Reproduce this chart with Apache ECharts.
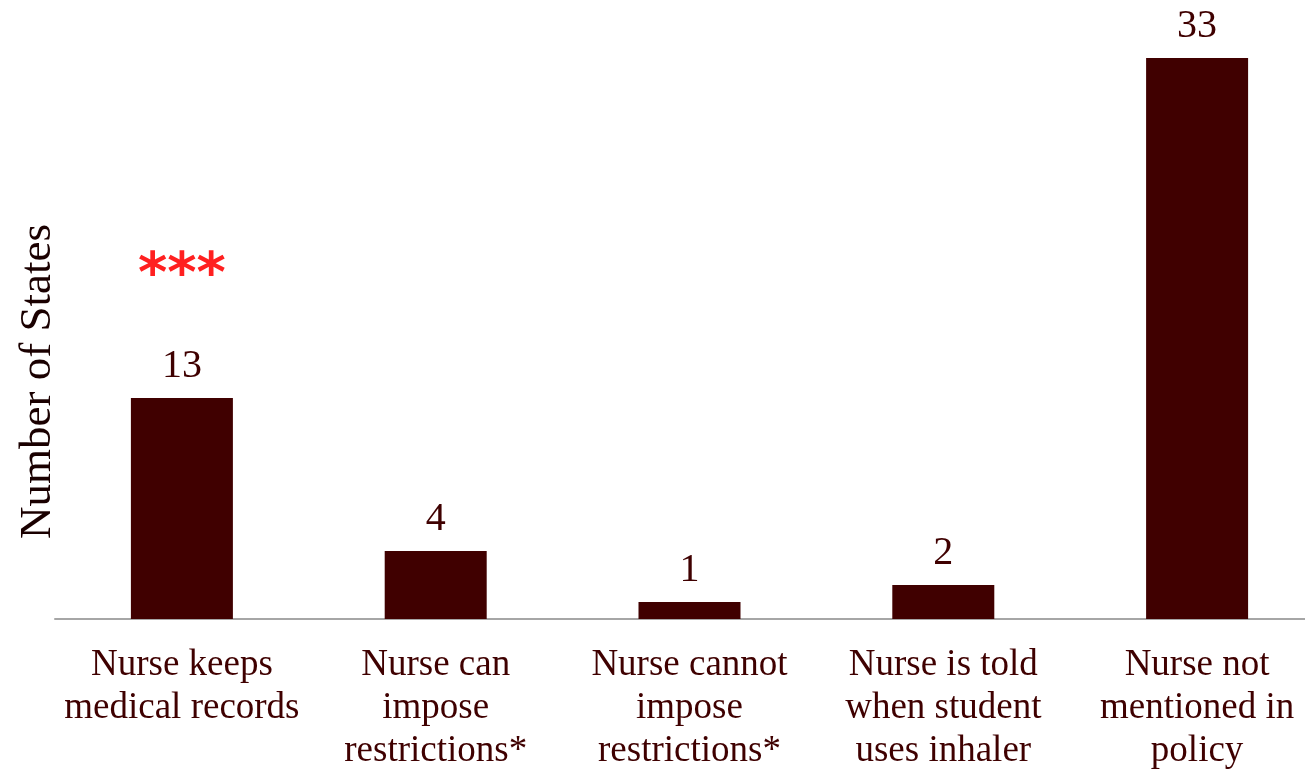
<!DOCTYPE html>
<html><head><meta charset="utf-8">
<script src="https://cdn.jsdelivr.net/npm/echarts@6/dist/echarts.min.js"></script>
<style>html,body{margin:0;padding:0;background:#fff}#c{width:1305px;height:770px}</style>
</head><body><div id="c"></div>
<script>
var categories = ['Nurse keeps\nmedical records','Nurse can\nimpose\nrestrictions*','Nurse cannot\nimpose\nrestrictions*','Nurse is told\nwhen student\nuses inhaler','Nurse not\nmentioned in\npolicy'];
var values = [13, 4, 1, 2, 33];
var marks = ['***', '', '', '', ''];

var data = values.map(function(v, i){
  var d = {value: v};
  if (marks[i]) {
    d.label = {formatter: '{star|' + marks[i] + '}\n{gap|}\n{val|{c}}'};
  }
  return d;
});

var chart = echarts.init(document.getElementById('c'));
chart.setOption({
  animation: false,
  grid: {left: 55, top: 58, width: 1269, bottom: 151, containLabel: false, outerBoundsMode: 'none'},
  xAxis: {
    type: 'category', data: categories,
    axisLine: {lineStyle: {color: '#a6a6a6', width: 2}},
    axisTick: {show: false},
    axisLabel: {interval: 0, margin: 25, fontFamily: 'Liberation Serif', fontSize: 37, lineHeight: 43, color: '#3f0000'}
  },
  yAxis: {
    type: 'value', min: 0, max: 33,
    axisLine: {show: false}, axisTick: {show: false}, axisLabel: {show: false}, splitLine: {show: false},
    name: 'Number of States', nameLocation: 'middle', nameRotate: 90, nameGap: -6,
    nameTextStyle: {fontFamily: 'Liberation Serif', fontSize: 45, color: '#1a0000', padding: [0, 86, 0, 0]}
  },
  series: [{
    type: 'bar', data: data, barWidth: 102,
    itemStyle: {color: '#400000'},
    label: {
      show: true, position: 'top', distance: 12,
      fontFamily: 'Liberation Serif', fontSize: 40, color: '#3f0000',
      rich: {
        star: {fontFamily: 'DejaVu Sans', fontWeight: 'bold', fontSize: 56, color: '#ff2020', lineHeight: 60},
        gap: {lineHeight: 40},
        val: {fontFamily: 'Liberation Serif', fontSize: 40, color: '#3f0000', lineHeight: 40}
      }
    }
  }]
});
</script></body></html>
